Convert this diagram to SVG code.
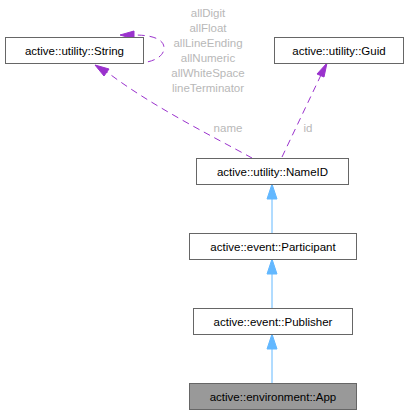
<svg xmlns="http://www.w3.org/2000/svg" width="410" height="414" viewBox="0 0 410 414">
<style>
.n rect{fill:#fff;stroke:#666;stroke-width:1}
.n text{font-family:"Liberation Sans",Arial,sans-serif;font-size:11.5px;fill:#000;text-anchor:middle}
.lbl{font-family:"Liberation Sans",Arial,sans-serif;font-size:11.5px;fill:#b8b8b8;text-anchor:middle}
.d{fill:none;stroke:#9a32cd;stroke-width:1;stroke-dasharray:7,5}
.s{fill:none;stroke:#63b8ff;stroke-width:1}
.ph{fill:#9a32cd;stroke:#9a32cd}
.bh{fill:#63b8ff;stroke:#63b8ff}
</style>
<rect width="410" height="414" fill="#fff"/>
<g id="connectors">
<path class="d" d="M136,63 C154,63 164,56 164,48 C164,39 152,35 134,35"/>
<polygon class="ph" points="134,31 120,35 134,39"/>
<path class="d" d="M252,158 C210,135 150,105 107,72"/>
<polygon class="ph" points="104,76 95,65 109,69"/>
<path class="d" d="M282,157 L321,75"/>
<polygon class="ph" points="317,74 327,63 324,77"/>
<path class="s" d="M272,233 L272,198"/>
<polygon class="bh" points="267,199 272,184 277,199"/>
<path class="s" d="M272,308 L272,273"/>
<polygon class="bh" points="267,274 272,259 277,274"/>
<path class="s" d="M272,383 L272,348"/>
<polygon class="bh" points="267,349 272,334 277,349"/>
<text class="lbl" x="208" y="17">allDigit</text>
<text class="lbl" x="208" y="32">allFloat</text>
<text class="lbl" x="208" y="47">allLineEnding</text>
<text class="lbl" x="208" y="62">allNumeric</text>
<text class="lbl" x="208" y="77">allWhiteSpace</text>
<text class="lbl" x="208" y="92">lineTerminator</text>
<text class="lbl" x="228" y="132">name</text>
<text class="lbl" x="308" y="132">id</text>
</g>
<g id="node-string" class="n"><rect x="5.5" y="37.5" width="138" height="26"/><text x="74.5" y="54.5">active::utility::String</text></g>
<g id="node-guid" class="n"><rect x="274.5" y="37.5" width="129" height="26"/><text x="339" y="54.5">active::utility::Guid</text></g>
<g id="node-nameid" class="n"><rect x="196.5" y="158.5" width="152" height="26"/><text x="272.5" y="175.5">active::utility::NameID</text></g>
<g id="node-participant" class="n"><rect x="189.5" y="233.5" width="167" height="26"/><text x="273" y="250.5">active::event::Participant</text></g>
<g id="node-publisher" class="n"><rect x="193.5" y="308.5" width="159" height="26"/><text x="273" y="325.5">active::event::Publisher</text></g>
<g id="node-app" class="n"><rect x="189.5" y="383.5" width="167" height="26" style="fill:#999"/><text x="273" y="400.5">active::environment::App</text></g>
</svg>
